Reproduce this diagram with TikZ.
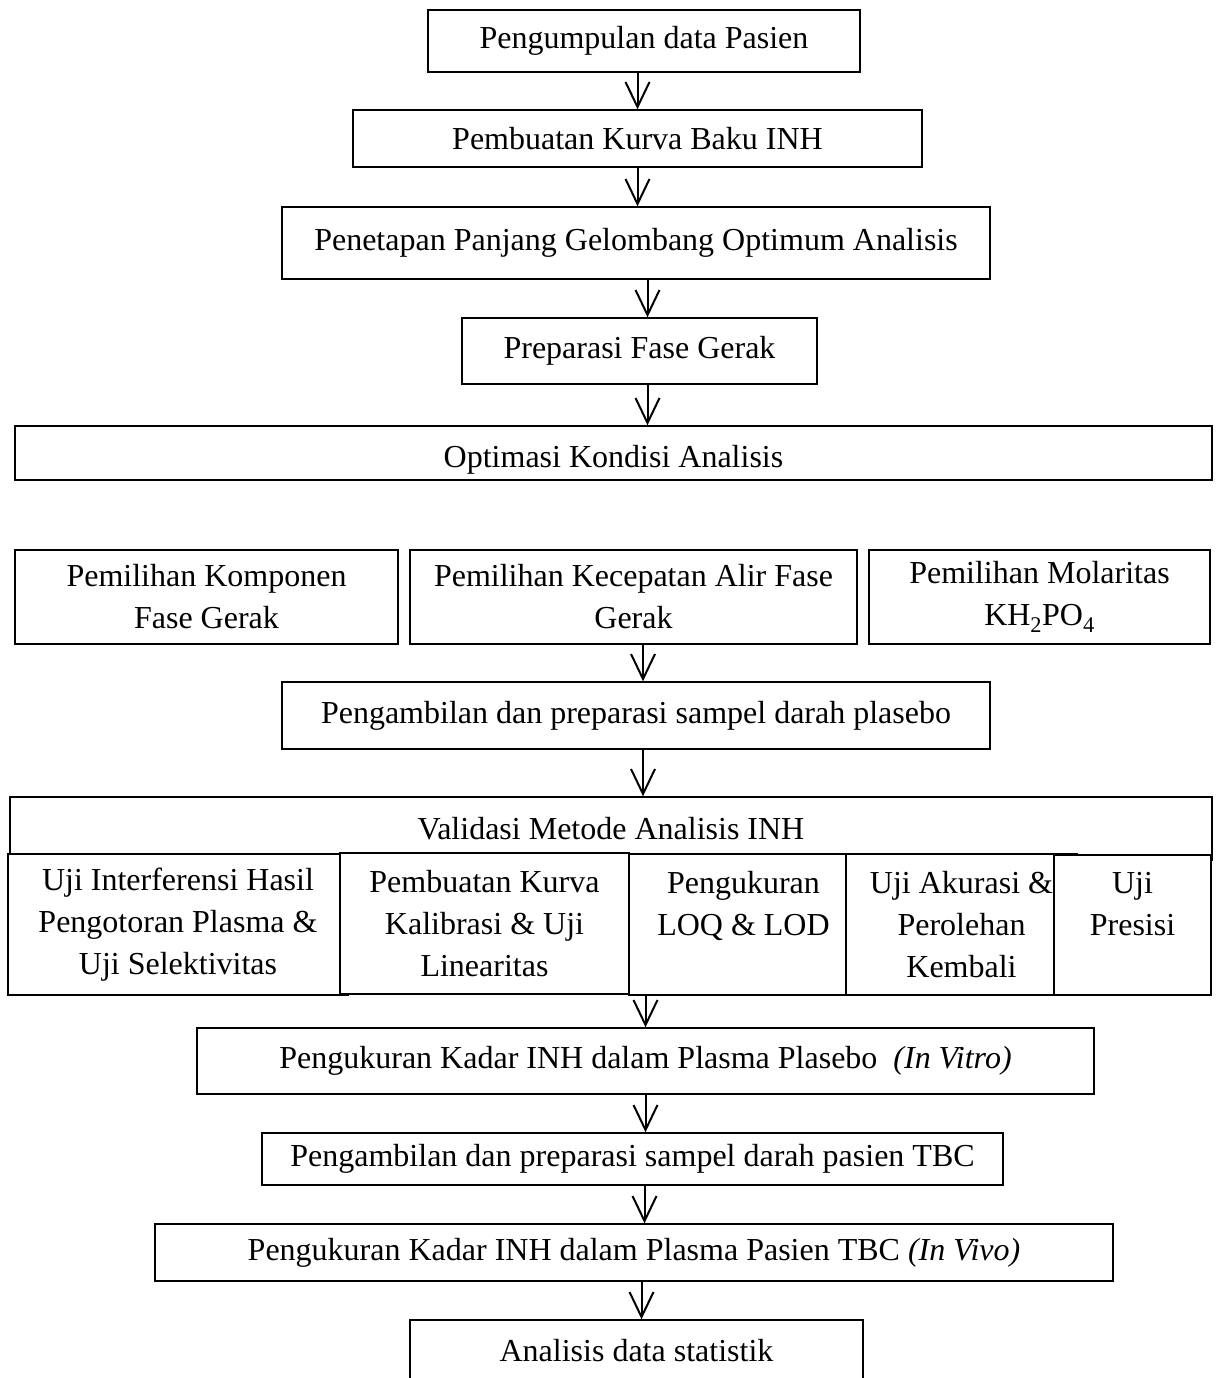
\documentclass[tikz,border=0pt]{standalone}
\usepackage{fontspec}
\setmainfont{Liberation Serif}
\usetikzlibrary{arrows.meta, positioning}

\begin{document}
\begin{tikzpicture}[x=1pt, y=-1pt, >={Straight Barb[length=25pt, width=24pt]},
		box/.style={rectangle, draw=black, fill=white, line width=1.4pt, inner sep=0pt, align=center, font=\fontsize{32}{42}\selectfont},
		arr/.style={->, line width=2pt}]
		\useasboundingbox (0,0) rectangle (1218,1378);
		
		\node[box, minimum width=432pt, minimum height=62pt] (pasien) at (644, 41) {Pengumpulan data Pasien};
		\node[box, minimum width=569pt, minimum height=57pt] (kurva) at (637.5, 138.5) {Pembuatan Kurva Baku INH};
		\node[box, minimum width=708pt, minimum height=72pt] (gelombang) at (636, 243) {Penetapan Panjang Gelombang Optimum Analisis};
		\node[box, minimum width=355pt, minimum height=66pt] (fase) at (639.5, 351) {Preparasi Fase Gerak};
		\node[box, minimum width=1197pt, minimum height=54pt] (optimasi) at (613.5, 453) {\raisebox{-7pt}[\height][\depth]{Optimasi Kondisi Analisis}};
		
		% pemilihan kondisi
		\node[box, minimum width=383pt, minimum height=94pt] (komponen) at (206.5, 597) {Pemilihan Komponen\\Fase Gerak};
		\node[box, minimum width=447pt, minimum height=94pt] (alir) at (633.5, 597) {Pemilihan Kecepatan Alir Fase\\Gerak};
		\node[box, minimum width=341pt, minimum height=94pt] (molar) at (1039.5, 597) {Pemilihan Molaritas\\KH\textsubscript{2}PO\textsubscript{4}};
		
		\node[box, minimum width=708pt, minimum height=67pt] (plasebo) at (636, 715.5) {Pengambilan dan preparasi sampel darah plasebo};
		
		% validasi
		\node[box, minimum width=1202pt, minimum height=63pt] (validasi) at (611, 828.5) {Validasi Metode Analisis INH};
		\node[box, minimum width=340pt, minimum height=141pt] (selektif) at (178, 924.5) {Uji Interferensi Hasil\\Pengotoran Plasma \&\\Uji Selektivitas};
		\node[box, minimum width=289pt, minimum height=141pt] (linear) at (484.5, 923.5) {Pembuatan Kurva\\Kalibrasi \& Uji\\Linearitas};
		\node[box, minimum width=229pt, minimum height=141pt] (lod) at (743.5, 924.5) {Pengukuran\\LOQ \& LOD\\\mbox{}};
		\node[box, minimum width=231pt, minimum height=141pt] (akurasi) at (961.5, 924.5) {Uji Akurasi \&\\Perolehan\\Kembali};
		\node[box, minimum width=157pt, minimum height=140pt] (presisi) at (1132.5, 925) {Uji\\Presisi\\\mbox{}};
		
		\node[box, minimum width=897pt, minimum height=66pt] (invitro) at (645.5, 1061) {Pengukuran Kadar INH dalam Plasma Plasebo~ \textit{(In Vitro)}};
		\node[box, minimum width=741pt, minimum height=52pt] (tbc) at (632.5, 1159) {Pengambilan dan preparasi sampel darah pasien TBC};
		\node[box, minimum width=958pt, minimum height=57pt] (invivo) at (634, 1252.5) {Pengukuran Kadar INH dalam Plasma Pasien TBC \textit{(In Vivo)}};
		\node[box, minimum width=453pt, minimum height=102pt] (statistik) at (636.5, 1371) {Analisis data statistik\\\mbox{}};
		
		\draw[arr] (pasien.south -| kurva.north) -- (kurva.north);
		\draw[arr] (kurva.south) -- (kurva.south |- gelombang.north);
		\draw[arr] ([xshift=8pt]fase.north |- gelombang.south) -- ([xshift=8pt]fase.north);
		\draw[arr] ([xshift=8pt]fase.south) -- ([xshift=8pt]fase.south |- optimasi.north);
		\draw[arr] ([xshift=7pt]plasebo.north |- alir.south) -- ([xshift=7pt]plasebo.north);
		\draw[arr] ([xshift=7pt]plasebo.south) -- ([xshift=7pt]plasebo.south |- validasi.north);
		\draw[arr] (invitro.north |- lod.south) -- (invitro.north);
		\draw[arr] (invitro.south) -- (invitro.south |- tbc.north);
		\draw[arr] ([xshift=12pt]tbc.south) -- ([xshift=12pt]tbc.south |- invivo.north);
		\draw[arr] ([xshift=5pt]statistik.north |- invivo.south) -- ([xshift=5pt]statistik.north);
		
	\end{tikzpicture}
\end{document}
